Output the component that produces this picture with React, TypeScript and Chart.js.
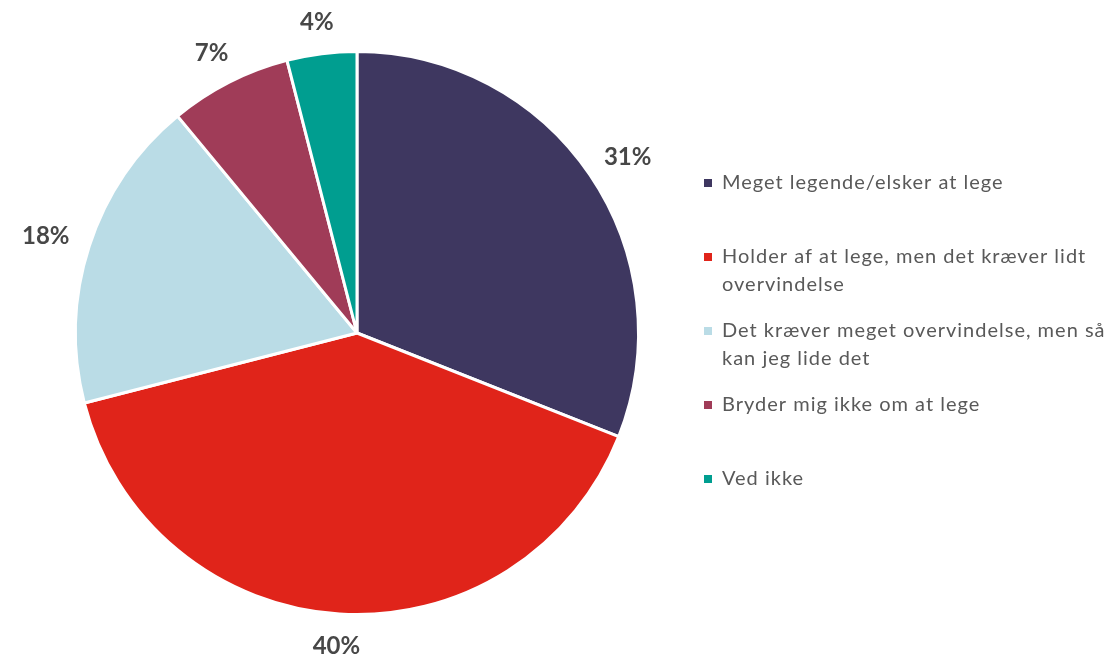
import React, { useEffect, useRef } from "react";
import { Chart, registerables } from "chart.js";

Chart.register(...registerables);

const categories = [
  "Meget legende/elsker at lege",
  "Holder af at lege, men det kræver lidt overvindelse",
  "Det kræver meget overvindelse, men så kan jeg lide det",
  "Bryder mig ikke om at lege",
  "Ved ikke",
];
const values = [31, 40, 18, 7, 4];
const colors = ["#3E3760", "#E0241A", "#BADCE6", "#A03C58", "#009E90"];

function wrap(ctx: CanvasRenderingContext2D, text: string, maxW: number): string[] {
  const words = text.split(" ");
  const lines: string[] = [];
  let cur = "";
  for (const w of words) {
    const t = cur ? cur + " " + w : w;
    if (ctx.measureText(t).width > maxW && cur) {
      lines.push(cur);
      cur = w;
    } else cur = t;
  }
  if (cur) lines.push(cur);
  return lines;
}

const outsideLabels = {
  id: "outsideLabels",
  afterDatasetsDraw(chart: any) {
    const ctx = chart.ctx as CanvasRenderingContext2D;
    const meta = chart.getDatasetMeta(0);
    const ds = chart.data.datasets[0];
    ctx.save();
    ctx.font = "bold 24px Lato, 'Open Sans', sans-serif";
    ctx.fillStyle = "#474747";
    ctx.textAlign = "center";
    ctx.textBaseline = "middle";
    meta.data.forEach((arc: any, i: number) => {
      const { x, y, startAngle, endAngle, outerRadius } = arc.getProps(
        ["x", "y", "startAngle", "endAngle", "outerRadius"],
        true
      );
      const mid = (startAngle + endAngle) / 2;
      const text = ds.data[i] + "%";
      const w = ctx.measureText(text).width;
      const h = 20;
      const pad = 22;
      const ax = x + Math.cos(mid) * (outerRadius + pad);
      const ay = y + Math.sin(mid) * (outerRadius + pad);
      const cx = ax + Math.cos(mid) * (w / 2);
      const cy = ay + Math.sin(mid) * (h / 2);
      ctx.fillText(text, cx, cy);
    });
    ctx.restore();
  },
};

const customLegend = {
  id: "customLegend",
  afterDraw(chart: any) {
    const ctx = chart.ctx as CanvasRenderingContext2D;
    const labels = chart.data.labels as string[];
    const bg = chart.data.datasets[0].backgroundColor as string[];
    ctx.save();
    ctx.font = "20px Lato, 'Open Sans', sans-serif";
    (ctx as any).letterSpacing = "1px";
    ctx.textBaseline = "middle";
    ctx.textAlign = "left";
    const x0 = 704;
    const y0 = 183;
    const step = 74;
    const lineH = 28;
    labels.forEach((lab, i) => {
      const y = y0 + i * step;
      const lines = wrap(ctx, lab, 392);
      ctx.fillStyle = bg[i];
      ctx.fillRect(x0, y - 4, 8, 8);
      ctx.fillStyle = "#595959";
      lines.forEach((ln, j) => {
        ctx.fillText(ln, x0 + 18, y + j * lineH);
      });
    });
    ctx.restore();
  },
};

export default function App() {
  const ref = useRef<HTMLCanvasElement>(null);
  useEffect(() => {
    const chart = new Chart(ref.current!, {
      type: "pie",
      data: {
        labels: categories,
        datasets: [
          {
            data: values,
            backgroundColor: colors,
            borderColor: "#ffffff",
            borderWidth: 3,
          },
        ],
      },
      options: {
        responsive: false,
        animation: false,
        layout: { padding: { left: 74, top: 50, right: 473, bottom: 43 } },
        plugins: {
          legend: { display: false },
          tooltip: { enabled: false },
        },
      },
      plugins: [outsideLabels, customLegend],
    });
    return () => chart.destroy();
  }, []);
  return (
    <div style={{ position: "fixed", left: 0, top: 0, width: 1113, height: 659, background: "#fff" }}>
      <canvas ref={ref} width={1113} height={659} style={{ width: 1113, height: 659 }} />
    </div>
  );
}
